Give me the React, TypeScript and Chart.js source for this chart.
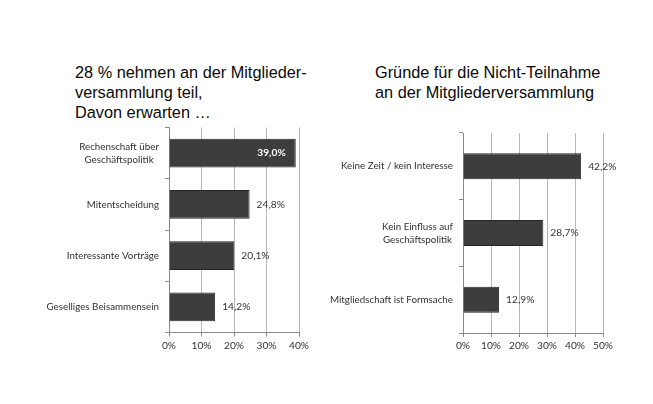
import React, { useEffect, useRef } from "react";
import { Chart, registerables } from "chart.js";

Chart.register(...registerables);

const leftTitle = ["28 % nehmen an der Mitglieder-", "versammlung teil,", "Davon erwarten …"];
const leftCategories: (string | string[])[] = [
  ["Rechenschaft über", "Geschäftspolitik"],
  "Mitentscheidung",
  "Interessante Vorträge",
  "Geselliges Beisammensein",
];
const leftValues = [39.0, 24.8, 20.1, 14.2];
const leftMax = 40;

const rightTitle = ["Gründe für die Nicht-Teilnahme", "an der Mitgliederversammlung"];
const rightCategories: (string | string[])[] = [
  "Keine Zeit / kein Interesse",
  ["Kein Einfluss auf", "Geschäftspolitik"],
  "Mitgliedschaft ist Formsache",
];
const rightValues = [42.2, 28.7, 12.9];
const rightMax = 50;

const LABEL_FONT = "Lato";
const LABEL_SIZE = 9.8;
const BAR_FILL = "#3d3d3d";
const BAR_BORDER = "#262626";
const GRID = "#b8b8b8";
const AXIS = "#8a8a8a";
const TEXT = "#333333";

const fmt = (v: number) => v.toFixed(1).replace(".", ",") + "%";

const valueLabels = {
  id: "valueLabels",
  afterDatasetsDraw(chart: any) {
    const ctx = chart.ctx;
    const meta = chart.getDatasetMeta(0);
    const data = chart.data.datasets[0].data as number[];
    ctx.save();
    ctx.textBaseline = "middle";
    meta.data.forEach((el: any, i: number) => {
      const v = data[i];
      const inside = chart.options.plugins.valueLabels?.insideFirst && i === 0;
      if (inside) {
        ctx.font = `bold ${LABEL_SIZE + 0.4}px ${LABEL_FONT}`;
        ctx.fillStyle = "#ffffff";
        ctx.textAlign = "right";
        ctx.fillText(fmt(v), el.x - 10, el.y);
      } else {
        ctx.font = `${LABEL_SIZE + 0.4}px ${LABEL_FONT}`;
        ctx.fillStyle = TEXT;
        ctx.textAlign = "left";
        ctx.fillText(fmt(v), el.x + 7, el.y);
      }
    });
    ctx.restore();
  },
};

// category labels: block right-aligned to the axis, lines centred within the block
const categoryLabels = {
  id: "categoryLabels",
  afterDraw(chart: any) {
    const ctx = chart.ctx;
    const y = chart.scales.y;
    const labels = chart.data.labels as (string | string[])[];
    const lh = 13;
    ctx.save();
    ctx.font = `${LABEL_SIZE}px ${LABEL_FONT}`;
    ctx.fillStyle = TEXT;
    ctx.textBaseline = "middle";
    ctx.textAlign = "center";
    labels.forEach((lab, i) => {
      const lines = Array.isArray(lab) ? lab : [lab];
      const w = Math.max(...lines.map((l) => ctx.measureText(l).width));
      const right = chart.chartArea.left - 10;
      const cx = right - w / 2;
      const cy = y.getPixelForValue(i);
      lines.forEach((l, j) => {
        ctx.fillText(l, cx, cy + (j - (lines.length - 1) / 2) * lh);
      });
    });
    ctx.restore();
  },
};

type PanelProps = {
  categories: (string | string[])[];
  values: number[];
  max: number;
  left: number;
  top: number;
  width: number;
  height: number;
  yAxisWidth: number;
  padRight: number;
  padTop: number;
  padBottom: number;
  barPct: number;
  insideFirst: boolean;
};

function Panel(p: PanelProps) {
  const ref = useRef<HTMLCanvasElement | null>(null);
  useEffect(() => {
    if (!ref.current) return;
    const chart = new Chart(ref.current, {
      type: "bar",
      data: {
        labels: p.categories,
        datasets: [
          {
            data: p.values,
            backgroundColor: BAR_FILL,
            borderColor: BAR_BORDER,
            borderWidth: 1,
            categoryPercentage: 1,
            barPercentage: p.barPct,
          },
        ],
      },
      options: {
        indexAxis: "y",
        responsive: false,
        animation: false,
        layout: { padding: { left: 0, right: p.padRight, top: p.padTop, bottom: p.padBottom } },
        plugins: {
          legend: { display: false },
          tooltip: { enabled: false },
          title: { display: false },
          // @ts-ignore
          valueLabels: { insideFirst: p.insideFirst },
        },
        scales: {
          x: {
            min: 0,
            max: p.max,
            afterFit: (s: any) => {
              s.height = 20;
            },
            ticks: {
              stepSize: 10,
              color: TEXT,
              font: { family: LABEL_FONT, size: 10.2 },
              padding: 3,
              callback: (v: any) => v + "%",
            },
            grid: { color: GRID, tickColor: AXIS, tickLength: 4, drawOnChartArea: true },
            border: { display: true, color: AXIS },
          },
          y: {
            afterFit: (s: any) => {
              s.width = p.yAxisWidth;
            },
            ticks: { display: false },
            grid: { offset: true, drawOnChartArea: false, drawTicks: true, tickLength: 4, color: AXIS },
            border: { display: true, color: AXIS },
          },
        },
      },
      plugins: [valueLabels, categoryLabels],
    } as any);
    return () => chart.destroy();
  }, []);
  return (
    <canvas
      ref={ref}
      width={p.width}
      height={p.height}
      style={{ position: "absolute", left: p.left, top: p.top, width: p.width, height: p.height }}
    />
  );
}

const titleStyle: React.CSSProperties = {
  position: "absolute",
  fontFamily: "'Liberation Sans', Arial, sans-serif",
  fontSize: "16.3px",
  lineHeight: "20px",
  color: "#0a0a0a",
  whiteSpace: "nowrap",
  margin: 0,
};

export default function App() {
  return (
    <div
      style={{
        position: "absolute",
        left: 0,
        top: 0,
        width: 653,
        height: 404,
        background: "#ffffff",
        overflow: "hidden",
      }}
    >
      <div style={{ ...titleStyle, left: 75, top: 62 }}>
        {leftTitle.map((t, i) => (
          <div key={i}>{t}</div>
        ))}
      </div>
      <div style={{ ...titleStyle, left: 375, top: 62 }}>
        {rightTitle.map((t, i) => (
          <div key={i}>{t}</div>
        ))}
      </div>
      <Panel
        categories={leftCategories}
        values={leftValues}
        max={leftMax}
        left={0}
        top={120}
        width={320}
        height={240}
        yAxisWidth={169}
        padRight={21}
        padTop={7.5}
        padBottom={7.5}
        barPct={0.56}
        insideFirst={true}
      />
      <Panel
        categories={rightCategories}
        values={rightValues}
        max={rightMax}
        left={320}
        top={120}
        width={333}
        height={240}
        yAxisWidth={143}
        padRight={50}
        padTop={13}
        padBottom={7}
        barPct={0.39}
        insideFirst={false}
      />
    </div>
  );
}
